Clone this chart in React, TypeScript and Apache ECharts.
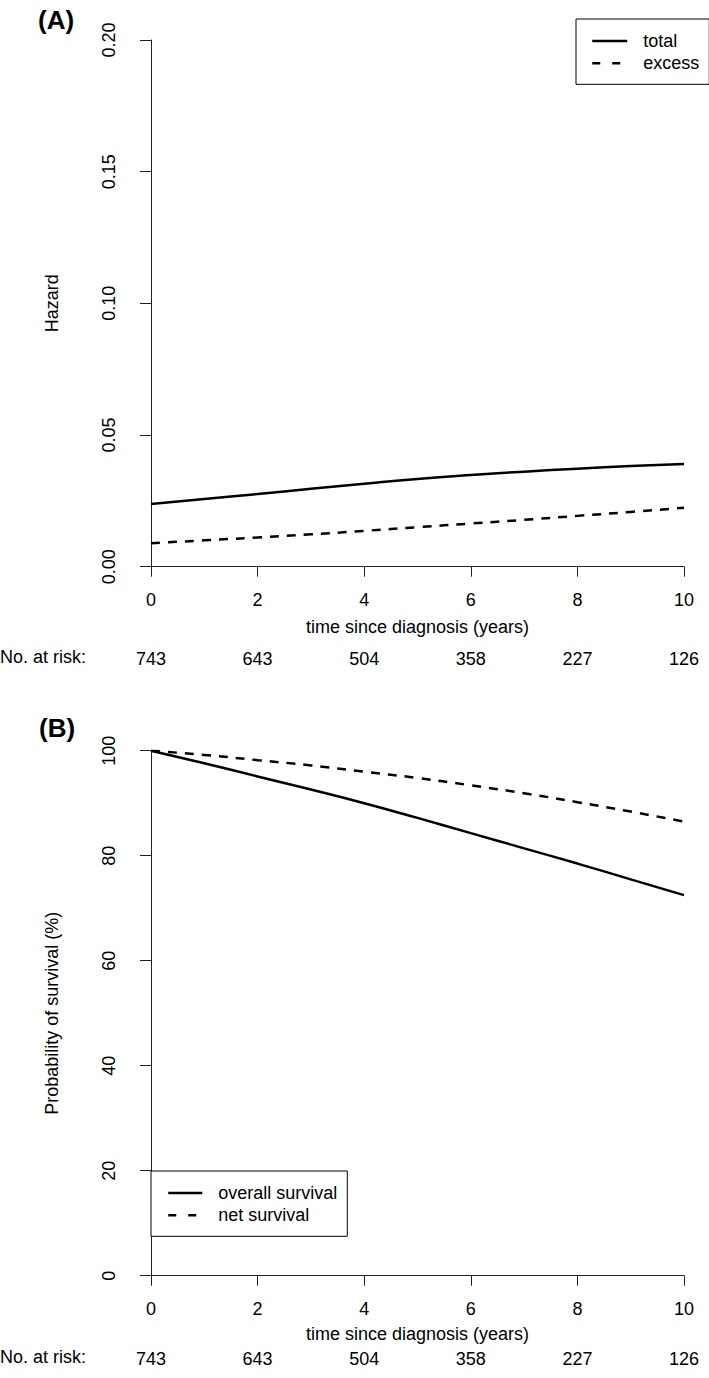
import React, { useEffect, useRef } from "react";
import * as echarts from "echarts";

const years = [0, 1, 2, 3, 4, 5, 6, 7, 8, 9, 10];
const totalHazard = [0.0238, 0.0257, 0.0276, 0.0296, 0.0315, 0.0333, 0.0348, 0.0361, 0.0372, 0.0382, 0.039];
const excessHazard = [0.0089, 0.01, 0.0111, 0.0123, 0.0136, 0.015, 0.0164, 0.0178, 0.0193, 0.0208, 0.0224];
const overallSurvival = [100, 97.6, 95.1, 92.6, 90.0, 87.2, 84.3, 81.4, 78.5, 75.5, 72.5];
const netSurvival = [100, 99.2, 98.2, 97.2, 96.0, 94.8, 93.4, 91.9, 90.2, 88.4, 86.5];
const atRiskTimes = [0, 2, 4, 6, 8, 10];
const atRisk = [743, 643, 504, 358, 227, 126];

const FONT = "'Liberation Sans', Arial, Helvetica, sans-serif";
const AXIS_COLOR = "#222";

function pairs(vals: number[]) {
  return years.map((t, i) => [t, vals[i]]);
}

function xAxisMain(gridIndex: number, nameGap: number) {
  return {
    type: "value",
    gridIndex,
    position: "bottom",
    min: 0,
    max: 10,
    interval: 2,
    name: "time since diagnosis (years)",
    nameLocation: "middle",
    nameGap,
    nameTextStyle: { fontSize: 18, color: "#000", fontFamily: FONT },
    axisLine: { show: true, onZero: false, lineStyle: { color: AXIS_COLOR, width: 1 } },
    axisTick: { show: true, inside: false, length: 10, lineStyle: { color: AXIS_COLOR } },
    axisLabel: { fontSize: 18, color: "#000", fontFamily: FONT, margin: 24 },
    splitLine: { show: false },
  };
}

function xAxisRisk(gridIndex: number, margin: number) {
  return {
    type: "value",
    gridIndex,
    position: "bottom",
    min: 0,
    max: 10,
    interval: 2,
    axisLine: { show: false },
    axisTick: { show: false },
    splitLine: { show: false },
    axisLabel: {
      fontSize: 18,
      color: "#000",
      fontFamily: FONT,
      margin,
      formatter: (v: number) => {
        const i = atRiskTimes.indexOf(v);
        return i >= 0 ? String(atRisk[i]) : "";
      },
    },
  };
}

function yAxis(gridIndex: number, name: string, max: number, interval: number, digits: number) {
  return {
    type: "value",
    gridIndex,
    min: 0,
    max,
    interval,
    offset: 11,
    name,
    nameLocation: "middle",
    nameGap: 79,
    nameTextStyle: { fontSize: 18, color: "#000", fontFamily: FONT },
    axisLine: { show: true, lineStyle: { color: AXIS_COLOR, width: 1 } },
    axisTick: { show: true, inside: false, length: 11, lineStyle: { color: AXIS_COLOR } },
    axisLabel: {
      fontSize: 18,
      color: "#000",
      fontFamily: FONT,
      rotate: 90,
      margin: 22,
      formatter: (v: number) => v.toFixed(digits),
    },
    splitLine: { show: false },
  };
}

function lineSeries(name: string, vals: number[], axisIdx: number, dashed: boolean) {
  return {
    type: "line",
    name,
    xAxisIndex: axisIdx,
    yAxisIndex: axisIdx,
    data: pairs(vals),
    smooth: true,
    showSymbol: false,
    symbol: "none",
    lineStyle: { color: "#000", width: 2.5, type: dashed ? [9, 8] : "solid" },
    itemStyle: { color: "#000" },
  };
}

function legendBox(names: string[], left: number, top: number, padLeft: number, itemWidth: number) {
  return {
    orient: "vertical",
    left,
    top,
    padding: [13, 10, 12, padLeft],
    itemWidth,
    itemHeight: 14,
    itemGap: 4.3,
    borderColor: "#000",
    borderWidth: 1,
    borderRadius: 0,
    backgroundColor: "#fff",
    selectedMode: false,
    itemStyle: { opacity: 0 },
    textStyle: { fontSize: 18, color: "#000", fontFamily: FONT, lineHeight: 18, padding: [0, 0, 0, 11] },
    data: [
      { name: names[0], itemStyle: { opacity: 0 }, lineStyle: { color: "#000", width: 2.5, type: "solid" } },
      { name: names[1], itemStyle: { opacity: 0 }, lineStyle: { color: "#000", width: 2.5, type: [8, 12] } },
    ],
  };
}

export default function App() {
  const ref = useRef<HTMLDivElement>(null);
  useEffect(() => {
    const chart = echarts.init(ref.current!, null, { renderer: "svg" });
    const option: any = {
      animation: false,
      backgroundColor: "#fff",
      textStyle: { fontFamily: FONT },
      grid: [
        { left: 151, right: 25, top: 40, height: 526.7 },
        { left: 151, right: 25, top: 750.7, height: 525 },
      ],
      xAxis: [xAxisMain(0, 51), xAxisMain(1, 49), xAxisRisk(0, 83), xAxisRisk(1, 74)],
      yAxis: [
        yAxis(0, "Hazard", 0.2, 0.05, 2),
        yAxis(1, "Probability of survival (%)", 100, 20, 0),
      ],
      series: [
        lineSeries("total", totalHazard, 0, false),
        lineSeries("excess", excessHazard, 0, true),
        lineSeries("overall survival", overallSurvival, 1, false),
        lineSeries("net survival", netSurvival, 1, true),
      ],
      legend: [
        legendBox(["total", "excess"], 576, 19, 15, 35),
        legendBox(["overall survival", "net survival"], 151, 1171, 16, 34),
      ],
      graphic: [
        { type: "text", left: 38, top: 7, style: { text: "(A)", font: `bold 26px ${FONT}`, fill: "#000" } },
        { type: "text", left: 39, top: 715, style: { text: "(B)", font: `bold 26px ${FONT}`, fill: "#000" } },
        { type: "text", left: 0, top: 648, style: { text: "No. at risk:", font: `18px ${FONT}`, fill: "#000" } },
        { type: "text", left: 0, top: 1348, style: { text: "No. at risk:", font: `18px ${FONT}`, fill: "#000" } },
      ],
    };
    chart.setOption(option);
    return () => chart.dispose();
  }, []);
  return <div ref={ref} style={{ position: "absolute", left: 0, top: 0, width: 709, height: 1378 }} />;
}
